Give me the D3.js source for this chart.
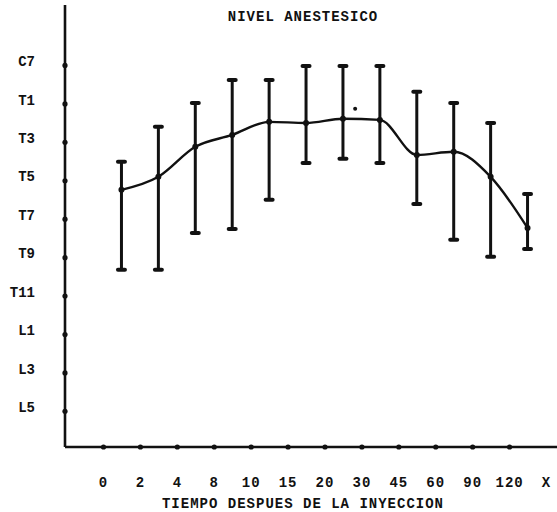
<!DOCTYPE html>
<html>
<head>
<meta charset="utf-8">
<script src="https://cdn.jsdelivr.net/npm/d3@7"></script>
<style>
	body { margin: 0; background: #fff; }
	text { font-family: "Liberation Mono", "DejaVu Sans Mono", monospace; font-weight: bold; fill: #111; }
</style>
</head>
<body>
<div id="chart"></div>
<script>
var niveles = ['C7', 'T1', 'T3', 'T5', 'T7', 'T9', 'T11', 'L1', 'L3', 'L5']
var tiempos = ['0', '2', '4', '8', '10', '15', '20', '30', '45', '60', '90', '120']
// nivel medio y extremos de la barra, en pasos del eje (C7 = 0, T1 = 1, T3 = 2 ...)
var media = [3.25, 2.91, 2.13, 1.82, 1.48, 1.51, 1.40, 1.43, 2.34, 2.26, 2.91, 4.24]
var alto = [2.52, 1.61, 0.99, 0.39, 0.39, 0.03, 0.03, 0.03, 0.70, 0.99, 1.51, 3.36]
var bajo = [5.33, 5.33, 4.37, 4.27, 3.51, 2.55, 2.44, 2.55, 3.62, 4.55, 4.99, 4.79]

var width = 557,
	height = 512

var margin = { top: 5, left: 65, bottom: 65 }

var svg = d3.select('#chart').append('svg')
	.attr('width', width)
	.attr('height', height);

var y = d3.scaleLinear()
	.domain([-1.56, 9.94])
	.range([margin.top, height - margin.bottom]);

var x = d3.scalePoint()
	.domain(tiempos.concat(['X']))
	.range([103, 546]);

var cx = function (i) {
	return x(tiempos[i]) + x.step() / 2
}

var data = tiempos.map(function (t, i) {
	return { t: t, media: media[i], alto: alto[i], bajo: bajo[i] }
})

// ejes
svg.append('line')
	.attr('x1', margin.left).attr('x2', margin.left)
	.attr('y1', margin.top).attr('y2', height - margin.bottom)
	.attr('stroke', '#111').attr('stroke-width', 2.6);

svg.append('line')
	.attr('x1', margin.left).attr('x2', width)
	.attr('y1', height - margin.bottom).attr('y2', height - margin.bottom)
	.attr('stroke', '#111').attr('stroke-width', 2.4);

var y_axis = d3.axisLeft(y)
	.tickValues(d3.range(niveles.length))
	.tickFormat(function (d) { return niveles[d] })
	.tickSize(0)
	.tickPadding(30);

var gy = svg.append('g')
	.attr('transform', 'translate(' + margin.left + ',0)')
	.call(y_axis);
gy.select('.domain').remove();
gy.selectAll('text')
	.attr('dy', '0.05em')
	.style('font-size', '14px');
gy.selectAll('.tick').append('circle')
	.attr('r', 2.6)
	.attr('fill', '#111');

var x_axis = d3.axisBottom(x)
	.tickSize(0)
	.tickPadding(30);

var gx = svg.append('g')
	.attr('transform', 'translate(0,' + (height - margin.bottom) + ')')
	.call(x_axis);
gx.select('.domain').remove();
gx.selectAll('text')
	.style('font-size', '14px')
	.style('letter-spacing', '1px');
gx.selectAll('.tick')
	.filter(function (d) { return d != 'X' })
	.append('circle')
	.attr('r', 2.6)
	.attr('fill', '#111');

// barras de dispersion
var bar = svg.selectAll('.bar')
	.data(data)
	.enter().append('g')
	.attr('class', 'bar');

bar.append('line')
	.attr('x1', function (d, i) { return cx(i) })
	.attr('x2', function (d, i) { return cx(i) })
	.attr('y1', function (d) { return y(d.alto) })
	.attr('y2', function (d) { return y(d.bajo) })
	.attr('stroke', '#111')
	.attr('stroke-width', 3);

bar.selectAll('.cap')
	.data(function (d, i) { return [[i, d.alto], [i, d.bajo]] })
	.enter().append('line')
	.attr('class', 'cap')
	.attr('x1', function (d) { return cx(d[0]) - 3.5 })
	.attr('x2', function (d) { return cx(d[0]) + 3.5 })
	.attr('y1', function (d) { return y(d[1]) })
	.attr('y2', function (d) { return y(d[1]) })
	.attr('stroke', '#111')
	.attr('stroke-width', 4)
	.attr('stroke-linecap', 'round');

var line = d3.line()
	.x(function (d, i) { return cx(i) })
	.y(function (d) { return y(d.media) })
	.curve(d3.curveMonotoneX);

svg.append('path')
	.datum(data)
	.attr('d', line)
	.attr('fill', 'none')
	.attr('stroke', '#111')
	.attr('stroke-width', 2.4);

bar.append('circle')
	.attr('cx', function (d, i) { return cx(i) })
	.attr('cy', function (d) { return y(d.media) })
	.attr('r', 3)
	.attr('fill', '#111');

// marca pequena junto al punto de 20 min
svg.append('circle')
	.attr('cx', cx(6) + x.step() * 0.33)
	.attr('cy', y(1.14))
	.attr('r', 2)
	.attr('fill', '#111');

// titulos
svg.append('text')
	.attr('x', 303)
	.attr('y', 21)
	.attr('text-anchor', 'middle')
	.style('font-size', '14px')
	.style('letter-spacing', '1px')
	.text('NIVEL ANESTESICO');

svg.append('text')
	.attr('x', 303)
	.attr('y', 508)
	.attr('text-anchor', 'middle')
	.style('font-size', '14px')
	.style('letter-spacing', '1px')
	.text('TIEMPO DESPUES DE LA INYECCION');
</script>
</body>
</html>
